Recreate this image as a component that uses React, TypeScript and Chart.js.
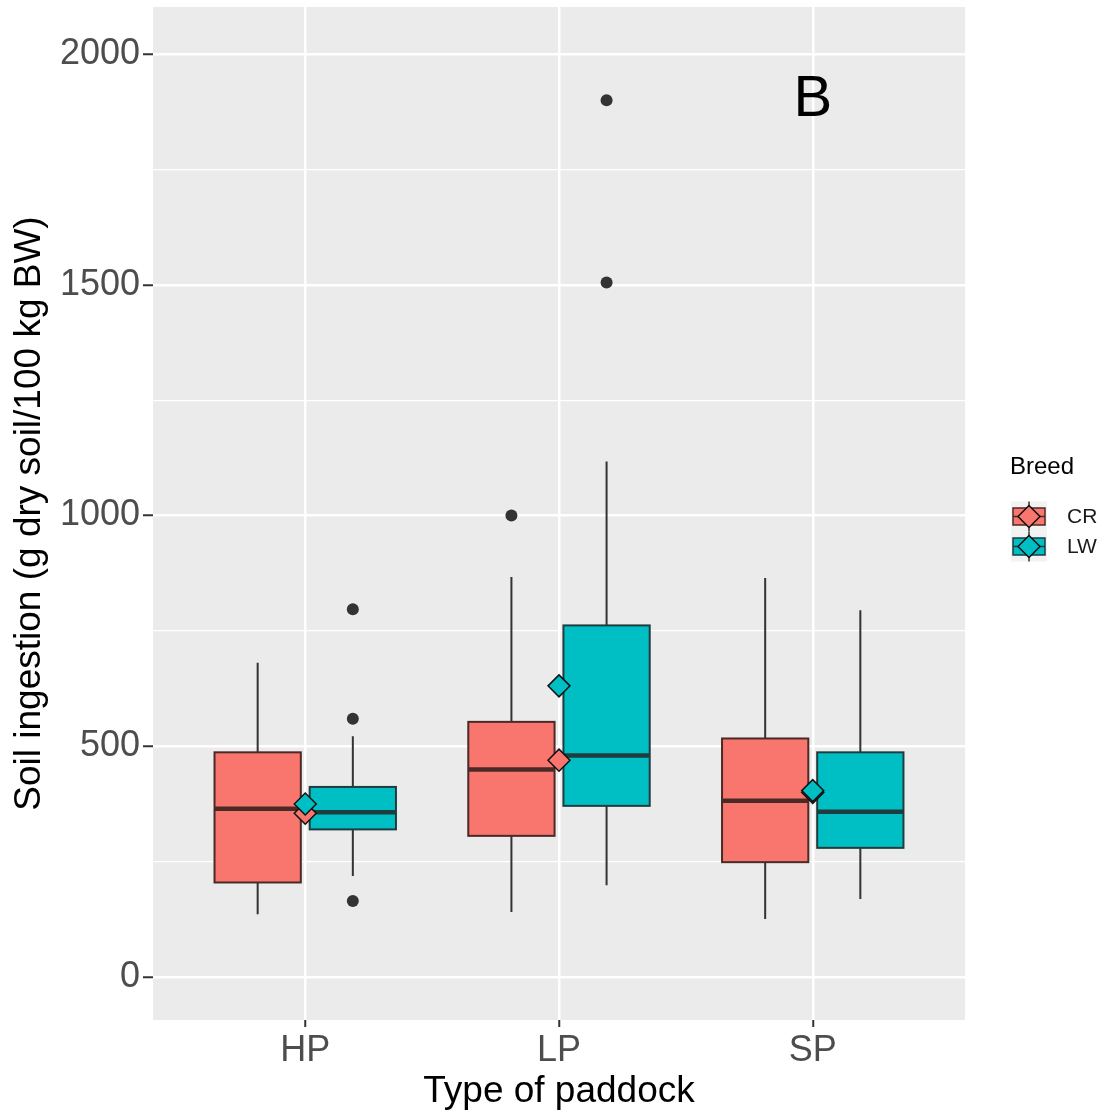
import React, { useEffect, useRef } from 'react';
import { Chart, registerables } from 'chart.js';

Chart.register(...registerables);

// ---------------- data ----------------
const categories = ['HP', 'LP', 'SP'];
const breeds = ['CR', 'LW'];

const crWhiskerLow = [136, 141, 126];
const crQ1 = [205, 306, 249];
const crMedian = [365, 450, 382];
const crQ3 = [487, 553, 517];
const crWhiskerHigh = [681, 867, 865];
const crMean = [355, 470, 400];
const crOutliers: number[][] = [[], [1000], []];

const lwWhiskerLow = [219, 199, 169];
const lwQ1 = [320, 371, 280];
const lwMedian = [357, 480, 358];
const lwQ3 = [412, 762, 487];
const lwWhiskerHigh = [522, 1117, 795];
const lwMean = [375, 631, 404];
const lwOutliers: number[][] = [[797, 560, 165], [1900, 1505], []];

const yMajorTicks = [0, 500, 1000, 1500, 2000];
const yMinorTicks = [250, 750, 1250, 1750];

const panelLabel = 'B';
const xTitle = 'Type of paddock';
const yTitle = 'Soil ingestion (g dry soil/100 kg BW)';
const legendTitle = 'Breed';

// ---------------- style ----------------
const FONT = "'Liberation Sans', Arial, Helvetica, sans-serif";
const CR_FILL = '#F8766D';
const LW_FILL = '#00BFC4';
const CR_DARK = '#4a2a27';
const LW_DARK = '#1f3d3f';
const DODGE = 0.1875;
const BOX_W = 0.34;
const PANEL_BG = '#EBEBEB';

const groups = [
  { fill: CR_FILL, dark: CR_DARK, off: -DODGE, lo: crWhiskerLow, q1: crQ1, med: crMedian, q3: crQ3, hi: crWhiskerHigh },
  { fill: LW_FILL, dark: LW_DARK, off: DODGE, lo: lwWhiskerLow, q1: lwQ1, med: lwMedian, q3: lwQ3, hi: lwWhiskerHigh },
];

const zeroPad = (s: any) => {
  s.paddingTop = 0;
  s.paddingBottom = 0;
  s.paddingLeft = 0;
  s.paddingRight = 0;
};

const panelPlugin = {
  id: 'ggPanel',
  beforeDraw(chart: any) {
    const { ctx, chartArea: a, width, height } = chart;
    ctx.save();
    ctx.fillStyle = '#FFFFFF';
    ctx.fillRect(0, 0, width, height);
    ctx.fillStyle = PANEL_BG;
    ctx.fillRect(a.left, a.top, a.right - a.left, a.bottom - a.top);
    ctx.restore();
  },
  beforeDatasetsDraw(chart: any) {
    const { ctx, chartArea: a } = chart;
    const xs = chart.scales.x;
    const ys = chart.scales.y;
    ctx.save();
    ctx.beginPath();
    ctx.rect(a.left, a.top, a.right - a.left, a.bottom - a.top);
    ctx.clip();
    const half = (xs.getPixelForValue(BOX_W) - xs.getPixelForValue(0)) / 2;
    groups.forEach((g) => {
      categories.forEach((_, i) => {
        const cx = xs.getPixelForValue(i + 1 + g.off);
        const yLo = ys.getPixelForValue(g.lo[i]);
        const yQ1 = ys.getPixelForValue(g.q1[i]);
        const yMed = ys.getPixelForValue(g.med[i]);
        const yQ3 = ys.getPixelForValue(g.q3[i]);
        const yHi = ys.getPixelForValue(g.hi[i]);
        ctx.strokeStyle = '#333333';
        ctx.lineWidth = 2;
        ctx.beginPath();
        ctx.moveTo(cx, yHi);
        ctx.lineTo(cx, yQ3);
        ctx.moveTo(cx, yQ1);
        ctx.lineTo(cx, yLo);
        ctx.stroke();
        ctx.fillStyle = g.fill;
        ctx.fillRect(cx - half, yQ3, 2 * half, yQ1 - yQ3);
        ctx.strokeStyle = g.dark;
        ctx.lineWidth = 2;
        ctx.strokeRect(cx - half, yQ3, 2 * half, yQ1 - yQ3);
        ctx.lineWidth = 4.5;
        ctx.beginPath();
        ctx.moveTo(cx - half, yMed);
        ctx.lineTo(cx + half, yMed);
        ctx.stroke();
      });
    });
    ctx.restore();
  },
  afterDatasetsDraw(chart: any) {
    const { ctx } = chart;
    const xs = chart.scales.x;
    const ys = chart.scales.y;
    ctx.save();
    ctx.fillStyle = '#000000';
    ctx.font = `58px ${FONT}`;
    ctx.textAlign = 'center';
    ctx.textBaseline = 'middle';
    ctx.fillText(panelLabel, xs.getPixelForValue(3), ys.getPixelForValue(1900));
    ctx.restore();
  },
  afterDraw(chart: any) {
    const { ctx } = chart;
    ctx.save();
    ctx.fillStyle = '#000000';
    ctx.font = `24px ${FONT}`;
    ctx.textAlign = 'left';
    ctx.textBaseline = 'alphabetic';
    ctx.fillText(legendTitle, 1010, 474);
    const fills = [CR_FILL, LW_FILL];
    const darks = [CR_DARK, LW_DARK];
    breeds.forEach((b, i) => {
      const cy = 516.5 + i * 30;
      const cx = 1029;
      ctx.fillStyle = '#F2F2F2';
      ctx.fillRect(cx - 18, cy - 15, 36, 30);
      ctx.strokeStyle = '#333333';
      ctx.lineWidth = 1.5;
      ctx.beginPath();
      ctx.moveTo(cx, cy - 15);
      ctx.lineTo(cx, cy + 15);
      ctx.stroke();
      ctx.fillStyle = fills[i];
      ctx.fillRect(cx - 16, cy - 8.5, 32, 17);
      ctx.strokeStyle = darks[i];
      ctx.lineWidth = 1.5;
      ctx.strokeRect(cx - 16, cy - 8.5, 32, 17);
      ctx.beginPath();
      ctx.moveTo(cx - 16, cy);
      ctx.lineTo(cx + 16, cy);
      ctx.moveTo(cx, cy - 8.5);
      ctx.lineTo(cx, cy + 8.5);
      ctx.stroke();
      ctx.beginPath();
      ctx.moveTo(cx, cy - 11);
      ctx.lineTo(cx + 11, cy);
      ctx.lineTo(cx, cy + 11);
      ctx.lineTo(cx - 11, cy);
      ctx.closePath();
      ctx.fillStyle = fills[i];
      ctx.fill();
      ctx.strokeStyle = '#111111';
      ctx.lineWidth = 1.5;
      ctx.stroke();
      ctx.fillStyle = '#1a1a1a';
      ctx.font = `21px ${FONT}`;
      ctx.textBaseline = 'middle';
      ctx.fillText(b, 1067, cy + 1);
    });
    ctx.restore();
  },
};

export default function App() {
  const ref = useRef<HTMLCanvasElement>(null);
  useEffect(() => {
    const canvas = ref.current;
    if (!canvas) return;

    const outlierPts: { x: number; y: number }[] = [];
    crOutliers.forEach((arr, i) => arr.forEach((v) => outlierPts.push({ x: i + 1 - DODGE, y: v })));
    lwOutliers.forEach((arr, i) => arr.forEach((v) => outlierPts.push({ x: i + 1 + DODGE, y: v })));
    const crMeanPts = crMean.map((v, i) => ({ x: i + 1, y: v }));
    const lwMeanPts = lwMean.map((v, i) => ({ x: i + 1, y: v }));
    const allYTicks = [...yMajorTicks, ...yMinorTicks].sort((a, b) => a - b);
    const isMajor = (ctx: any) => ctx.tick && yMajorTicks.includes(ctx.tick.value);

    const chart = new Chart(canvas, {
      type: 'scatter',
      data: {
        datasets: [
          { label: 'outliers', data: outlierPts, pointStyle: 'circle', pointRadius: 6, backgroundColor: '#333333', borderWidth: 0 },
          { label: 'LW mean', data: lwMeanPts, pointStyle: 'rectRot', pointRadius: 11, backgroundColor: LW_FILL, borderColor: '#111111', borderWidth: 1.5 },
          { label: 'CR mean', data: crMeanPts, pointStyle: 'rectRot', pointRadius: 11, backgroundColor: CR_FILL, borderColor: '#111111', borderWidth: 1.5 },
        ],
      },
      options: {
        animation: false,
        responsive: true,
        maintainAspectRatio: false,
        events: [],
        layout: { autoPadding: false, padding: { left: 8, top: 7, right: 145, bottom: 0 } },
        plugins: { legend: { display: false }, tooltip: { enabled: false }, title: { display: false } },
        scales: {
          x: {
            type: 'linear',
            min: 0.4,
            max: 3.6,
            afterBuildTicks: (s: any) => {
              s.ticks = categories.map((_, i) => ({ value: i + 1 }));
            },
            afterFit: (s: any) => {
              s.height = 97;
              zeroPad(s);
            },
            ticks: {
              callback: (_v: any, idx: number) => categories[idx],
              font: { family: FONT, size: 36 },
              color: '#4D4D4D',
              padding: 2,
              maxRotation: 0,
              autoSkip: false,
            },
            grid: { color: '#FFFFFF', lineWidth: 2.5, tickColor: '#333333', tickLength: 7, tickWidth: 2 },
            border: { display: false },
            title: { display: true, text: xTitle, color: '#000000', font: { family: FONT, size: 37 }, padding: { top: 0, bottom: 3 } },
          },
          y: {
            type: 'linear',
            min: -93,
            max: 2102,
            afterBuildTicks: (s: any) => {
              s.ticks = allYTicks.map((v) => ({ value: v }));
            },
            afterFit: (s: any) => {
              s.width = 145;
              zeroPad(s);
            },
            ticks: {
              callback: (v: any) => (yMajorTicks.includes(v) ? String(v) : ''),
              font: { family: FONT, size: 36 },
              color: '#4D4D4D',
              padding: 3,
              autoSkip: false,
            },
            grid: {
              color: '#FFFFFF',
              lineWidth: (c: any) => (isMajor(c) ? 2.5 : 1.2),
              tickColor: (c: any) => (isMajor(c) ? '#333333' : 'rgba(0,0,0,0)'),
              tickLength: 10,
              tickWidth: 2,
            },
            border: { display: false },
            title: { display: true, text: yTitle, color: '#000000', font: { family: FONT, size: 37 }, padding: { top: 0, bottom: 0 } },
          },
        },
      },
      plugins: [panelPlugin],
    } as any);
    return () => chart.destroy();
  }, []);

  return (
    <div style={{ position: 'fixed', left: 0, top: 0, width: 1110, height: 1117 }}>
      <canvas ref={ref} />
    </div>
  );
}
